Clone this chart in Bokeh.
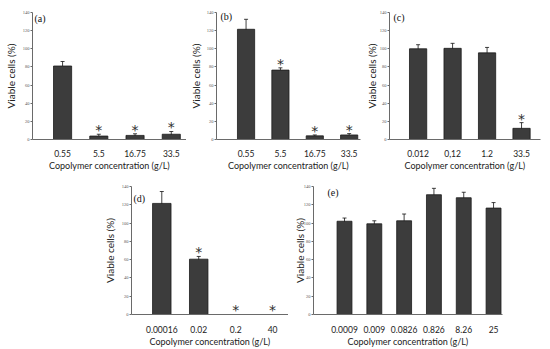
from bokeh.plotting import figure
from bokeh.layouts import row, column, Spacer
from bokeh.models import ColumnDataSource, Whisker, TeeHead, FixedTicker, Label
from bokeh.core.properties import value
from bokeh.embed import file_html
from bokeh.resources import INLINE

# ---------------- data ----------------
a_labels = ["0.55", "5.5", "16.75", "33.5"]
a_vals = [81, 3.8, 4.5, 5.8]
a_err = [5, 2, 1.8, 3]
a_sig = [0, 1, 1, 1]

b_labels = ["0.55", "5.5", "16.75", "33.5"]
b_vals = [121.5, 76.5, 4.0, 5.0]
b_err = [11, 2.5, 1.0, 1.5]
b_sig = [0, 1, 1, 1]

c_labels = ["0.012", "0,12", "1.2", "33.5"]
c_vals = [100, 100.5, 95.5, 12.3]
c_err = [4.5, 5.5, 6, 6.3]
c_sig = [0, 0, 0, 1]

d_labels = ["0.00016", "0.02", "0.2", "40"]
d_vals = [121.5, 60.5, 0, 0]
d_err = [13, 3, 0, 0]
d_sig = [0, 1, 1, 1]

e_labels = ["0.0009", "0.009", "0.0826", "0.826", "8.26", "25"]
e_vals = [102, 99.2, 102.5, 131, 127.7, 116.4]
e_err = [3.5, 3.3, 7.4, 7, 6, 6]
e_sig = [0, 0, 0, 0, 0, 0]

y_ticks = [0, 20, 40, 60, 80, 100, 120, 140]
x_title = "Copolymer concentration (g/L)"
y_title = "Viable cells (%)"

BAR = "#3c3c3c"
AXIS = "#6a6a6a"
SANS = "Lato"
STAR_PAD = 4.5


def panel(tag, labels, vals, errs, sig, width, height, bl, br, bt, bb,
          xr, ystand, xls, xts, tag_dx, tag_dy):
    idx = list(range(len(labels)))
    p = figure(width=width, height=height, x_range=xr, y_range=(0, 140),
               output_backend="svg", toolbar_location=None,
               min_border_left=bl, min_border_right=br,
               min_border_top=bt, min_border_bottom=bb)
    p.outline_line_color = None
    p.grid.visible = False
    p.background_fill_color = "white"
    p.border_fill_color = "white"

    p.vbar(x=idx, top=vals, width=0.5, fill_color=BAR,
           line_color="#1c1c1c", line_width=0.8)

    wx = [i for i, e in zip(idx, errs) if e > 0]
    wu = [v + e for v, e in zip(vals, errs) if e > 0]
    wl = [v - e for v, e in zip(vals, errs) if e > 0]
    wsrc = ColumnDataSource(dict(x=wx, upper=wu, lower=wl))
    p.add_layout(Whisker(base="x", upper="upper", lower="lower", source=wsrc,
                         line_color="#111111", line_width=0.8,
                         upper_head=TeeHead(size=4, line_color="#111111", line_width=0.8),
                         lower_head=TeeHead(size=4, line_color="#111111", line_width=0.8)))

    sx = [i for i, s in zip(idx, sig) if s]
    sy = [v + e + STAR_PAD for v, e, s in zip(vals, errs, sig) if s]
    if sx:
        p.text(x=sx, y=sy, text=["*"] * len(sx), text_align="center",
               text_baseline="middle", text_font=value("DejaVu Sans"),
               text_font_size="14px", text_color="#2e2e2e")

    xa = p.xaxis[0]
    xa.ticker = FixedTicker(ticks=idx)
    xa.major_label_overrides = {i: lab for i, lab in zip(idx, labels)}
    xa.major_tick_line_color = None
    xa.minor_tick_line_color = None
    xa.axis_line_color = AXIS
    xa.major_label_standoff = xls
    xa.major_label_text_font = SANS
    xa.major_label_text_font_size = "8.5px"
    xa.major_label_text_color = "#222222"
    xa.axis_label = x_title
    xa.axis_label_standoff = xts
    xa.axis_label_text_font = SANS
    xa.axis_label_text_font_size = "9px"
    xa.axis_label_text_font_style = "normal"
    xa.axis_label_text_color = "#222222"

    ya = p.yaxis[0]
    ya.ticker = FixedTicker(ticks=y_ticks)
    ya.axis_line_color = AXIS
    ya.major_tick_line_color = AXIS
    ya.major_tick_out = 2
    ya.major_tick_in = 0
    ya.minor_tick_line_color = None
    ya.major_label_standoff = 1
    ya.major_label_text_font = "Liberation Serif"
    ya.major_label_text_font_size = "4.5px"
    ya.major_label_text_color = "#555555"
    ya.axis_label = y_title
    ya.axis_label_standoff = ystand
    ya.axis_label_text_font = SANS
    ya.axis_label_text_font_size = "10px"
    ya.axis_label_text_font_style = "normal"
    ya.axis_label_text_color = "#222222"

    p.add_layout(Label(x=xr[0], y=140, x_offset=tag_dx, y_offset=-tag_dy,
                       text=tag, text_font="Liberation Serif",
                       text_font_size="10px", text_color="#111111",
                       text_baseline="middle", text_align="left"))
    return p


# top row: page y 0..173, frame 12..144
pa = panel("(a)", a_labels, a_vals, a_err, a_sig, 186, 173, 32, 0, 12, 29,
           (-0.83, 3.42), 3, 4, 0, 2, 6)
pb = panel("(b)", b_labels, b_vals, b_err, b_sig, 176, 173, 23, 2, 12, 29,
           (-0.86, 3.33), 2, 4, 0, 4, 4)
pc = panel("(c)", c_labels, c_vals, c_err, c_sig, 188, 173, 20, 10, 12, 29,
           (-0.83, 3.55), -1, 4, 0, 4, 5)
# bottom row: page y 173..349, frame 186..318
pd = panel("(d)", d_labels, d_vals, d_err, d_sig, 188, 176, 31, 0, 13, 31,
           (-0.82, 3.43), 3, 5, 0, 2, 12)
pe = panel("(e)", e_labels, e_vals, e_err, e_sig, 262, 176, 25, 48, 13, 31,
           (-1.04, 5.3), -5, 5, 0, 14, 6)

layout = column(row(pa, pb, pc), row(Spacer(width=100, height=176), pd, pe))

with open("out.html", "w") as f:
    f.write(file_html(layout, INLINE))
